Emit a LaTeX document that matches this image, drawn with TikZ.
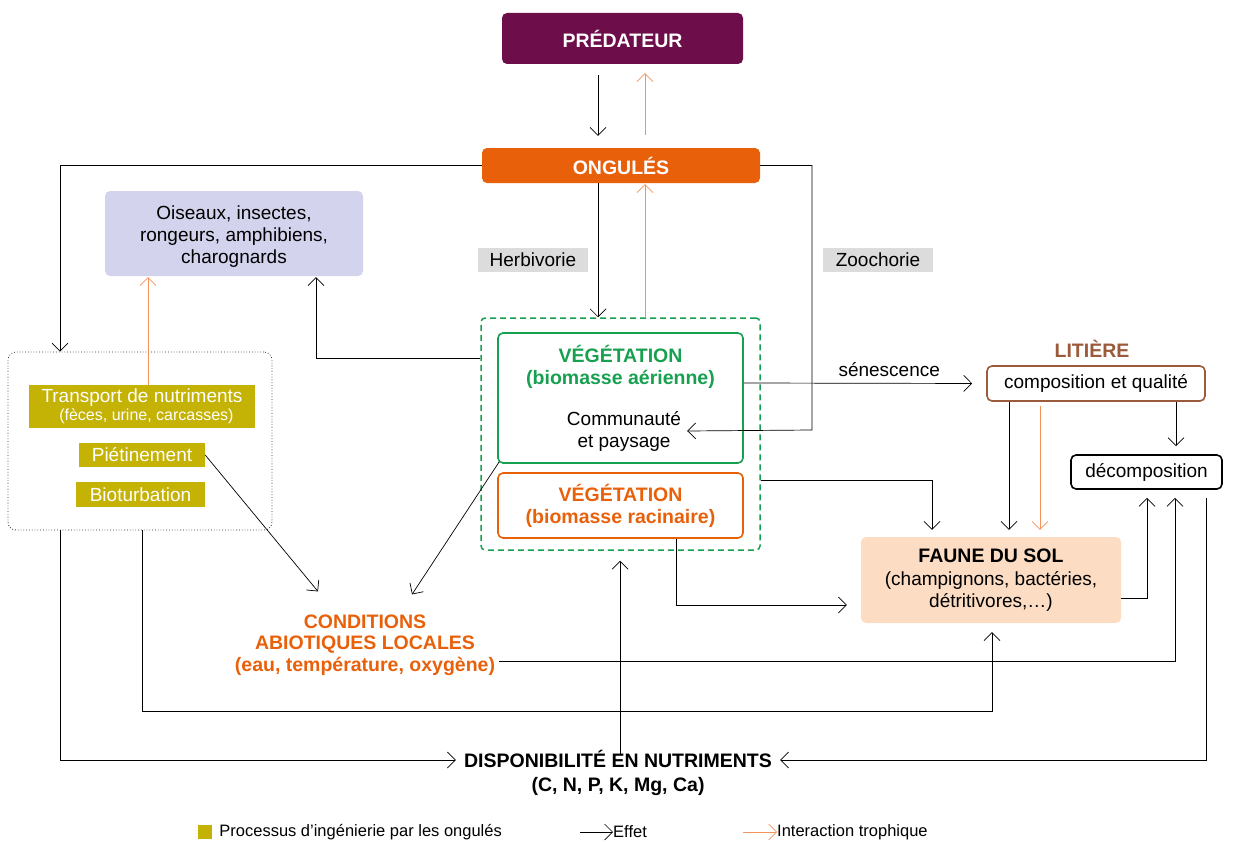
\documentclass[tikz,border=0pt]{standalone}
\usepackage{fontspec}
\setmainfont{Liberation Sans}
\usetikzlibrary{arrows.meta}

\definecolor{predcol}{HTML}{6D0E4A}
\definecolor{ongcol}{HTML}{E8600A}
\definecolor{lavcol}{HTML}{D3D3EE}
\definecolor{greycol}{HTML}{DCDCDC}
\definecolor{olivecol}{HTML}{C4B205}
\definecolor{vegcol}{HTML}{17A050}
\definecolor{litcol}{HTML}{9B5A3C}
\definecolor{faunecol}{HTML}{FCDCC3}
\definecolor{trophcol}{HTML}{F4945A}

\tikzset{
  eff/.style={-{Straight Barb[length=8pt,width=16pt]}, draw=black, line width=0.7pt},
  troph/.style={eff, draw=trophcol},
  box/.style={rounded corners=5pt, align=center, inner sep=0pt},
  proc/.style={fill=olivecol, text=white, align=center, inner sep=0pt},
  lbl/.style={fill=greycol, inner sep=0pt, minimum width=110, minimum height=24},
  titre/.style={font=\fontsize{19.5}{23}\selectfont\bfseries},
}

\begin{document}
\begin{tikzpicture}[x=1pt, y=-1pt, every node/.style={font=\fontsize{19}{22}\selectfont}]
    \useasboundingbox (0,0) rectangle (1236,843);

    % top
    \node[box, fill=predcol, text=white, minimum width=241, minimum height=51, titre] (pred) at (622.5,38.5) {PRÉDATEUR};
    \node[box, fill=ongcol, text=white, minimum width=278, minimum height=35, titre] (ong) at (621,165.5) {ONGULÉS};
    \node[box, fill=lavcol, minimum width=258, minimum height=85] (ois) at (234,233.5) {};
    \node[align=center, inner sep=0pt] (oist) at (234,237) {Oiseaux, insectes,\\rongeurs, amphibiens,\\charognards};
    \node[lbl] (herb) at (533,260) {Herbivorie};
    \node[lbl] (zoo) at (878,260) {Zoochorie};

    % processus des ongules
    \node[draw=black!80, dotted, line width=0.8pt, rounded corners=8pt, minimum width=264, minimum height=178] (procbox) at (140,441) {};
    \node[proc, minimum width=226, minimum height=43] (transp) at (142,406.5) {Transport de nutriments\\[-4pt]{\fontsize{16}{18}\selectfont\ \ (fèces, urine, carcasses)}};
    \node[proc, minimum width=126, minimum height=24] (piet) at (142,455) {Piétinement};
    \node[proc, minimum width=129, minimum height=25] (biot) at (140.5,494.5) {Bioturbation};

    % vegetation
    \node[draw=vegcol, dashed, line width=1.5pt, dash pattern=on 6pt off 4pt, rounded corners=4pt, minimum width=279, minimum height=232] (vegbox) at (620.5,434) {};
    \node[box, draw=vegcol, line width=1.6pt, minimum width=245, minimum height=130] (vega) at (620.5,398) {};
    \node[text=vegcol, align=center, font=\fontsize{19.5}{22}\selectfont\bfseries] (vegat) at (620.5,367) {VÉGÉTATION\\(biomasse aérienne)};
    \node[align=center, inner sep=0pt] (comm) at (624,431) {Communauté\\et paysage};
    \node[box, draw=ongcol, line width=1.6pt, minimum width=245, minimum height=65, text=ongcol, font=\fontsize{19.5}{22}\selectfont\bfseries] (vegr) at (620.5,505.5) {VÉGÉTATION\\(biomasse racinaire)};

    % litiere, sol
    \node[text=litcol, titre] (litt) at (1092,349) {LITIÈRE};
    \node[box, draw=litcol, line width=1.6pt, minimum width=218, minimum height=35] (compo) at (1096,383.5) {composition et qualité};
    \node[box, draw=black, line width=1.6pt, minimum width=151, minimum height=34] (decomp) at (1146.5,472) {décomposition};
    \node[box, fill=faunecol, minimum width=260, minimum height=86] (faune) at (991,580) {{\fontsize{19.5}{22}\selectfont\bfseries FAUNE DU SOL}\\[1pt](champignons, bactéries,\\détritivores,\dots)};

    \node[text=ongcol, align=center, inner sep=0pt, font=\fontsize{19.5}{21.5}\selectfont\bfseries] (cond) at (365,645) {CONDITIONS\\ABIOTIQUES LOCALES\\(eau, température, oxygène)};
    \node[align=center, inner sep=0pt, font=\fontsize{19.5}{24}\selectfont\bfseries] (dispo) at (618,773) {DISPONIBILITÉ EN NUTRIMENTS\\(C, N, P, K, Mg, Ca)};

    % connectors
    \draw[eff] ([xshift=-24.5pt,yshift=-11pt]pred.south) -- ([xshift=-23pt,yshift=12pt]ong.north);
    \draw[troph] ([xshift=24pt,yshift=13pt]ong.north) -- ([xshift=22.5pt,yshift=-9pt]pred.south);
    \draw[eff] ([xshift=-23pt]ong.south) -- ([xshift=-22.5pt]vegbox.north);
    \draw[troph] ([xshift=24.5pt]vegbox.north) -- ([xshift=24pt,yshift=-1pt]ong.south);
    \draw[eff] (ong.west) -| ([xshift=-80pt]procbox.north);
    \coordinate (zooc) at (812,430);
    \draw[eff] (ong.east) -| (zooc) -- ([xshift=6pt]comm.east);
    \draw[troph] ([xshift=6pt]transp.north) -- ([xshift=-86pt,yshift=-1pt]ois.south);
    \draw[eff, shorten >=1pt] ([yshift=76pt]vegbox.west) -| ([xshift=82pt]ois.south);
    \draw[eff, shorten >=14pt] ([yshift=15pt]vega.east) -- (compo.west) node[pos=.6, above=3pt] (sen) {sénescence};
    \draw[eff, shorten >=8pt] ([xshift=80pt]compo.south) -- ([xshift=29.5pt]decomp.north);
    \draw[eff, shorten >=7pt] ([xshift=-87pt]compo.south) -- ([xshift=18pt]faune.north);
    \draw[troph, shorten >=7pt] ([xshift=-56pt,yshift=-4pt]compo.south) -- ([xshift=49pt]faune.north);
    \draw[eff, shorten >=7pt] ([yshift=-46pt]vegbox.east) -| ([xshift=-59pt]faune.north);
    \draw[eff, shorten >=14pt] ([xshift=55.5pt]vegr.south) |- ([yshift=-25pt]faune.west);
    \draw[eff, shorten >=8pt] ([yshift=-18pt]faune.east) -| ([xshift=0.5pt]decomp.south);
    \draw[eff, shorten >=8pt] ([xshift=4pt,yshift=-16pt]cond.east) -| ([xshift=28.5pt]decomp.south);
    \draw[eff] (piet.east) -- ([xshift=-47pt,yshift=23pt]cond.north);
    \draw[eff] ([xshift=2pt,yshift=2pt]vega.south west) -- ([xshift=47pt,yshift=20pt]cond.north);
    \draw[eff] ([xshift=2pt]procbox.south) |- ([xshift=1pt,yshift=-88pt]faune.south) -- ([xshift=1pt,yshift=-9pt]faune.south);
    \draw[eff, shorten >=8pt] ([xshift=-80pt]procbox.south) |- ([yshift=13pt]dispo.west);
    \draw[eff, shorten >=10pt] ([xshift=2pt,yshift=-4pt]dispo.north) -- ([xshift=-0.5pt]vegbox.south);
    \draw[eff, shorten >=8pt] ([xshift=59.5pt,yshift=-8pt]decomp.south) |- ([yshift=13pt]dispo.east);

    % legende
    \node[fill=olivecol, minimum size=14, inner sep=0pt] (legp) at (205,832) {};
    \node[right=7pt, inner sep=0pt, font=\fontsize{16.5}{19}\selectfont] (legpt) at (legp.east) {Processus d’ingénierie par les ongulés};
    \coordinate (lega) at (580,832);
    \node[anchor=west, inner sep=0pt, font=\fontsize{16.5}{19}\selectfont] (legat) at (613,832) {Effet};
    \draw[eff] (lega) -- (legat.west);
    \coordinate (legb) at (743,832);
    \node[anchor=west, inner sep=0pt, font=\fontsize{16.5}{19}\selectfont] (legbt) at (777,832) {Interaction trophique};
    \draw[troph] (legb) -- (legbt.west);
\end{tikzpicture}
\end{document}
